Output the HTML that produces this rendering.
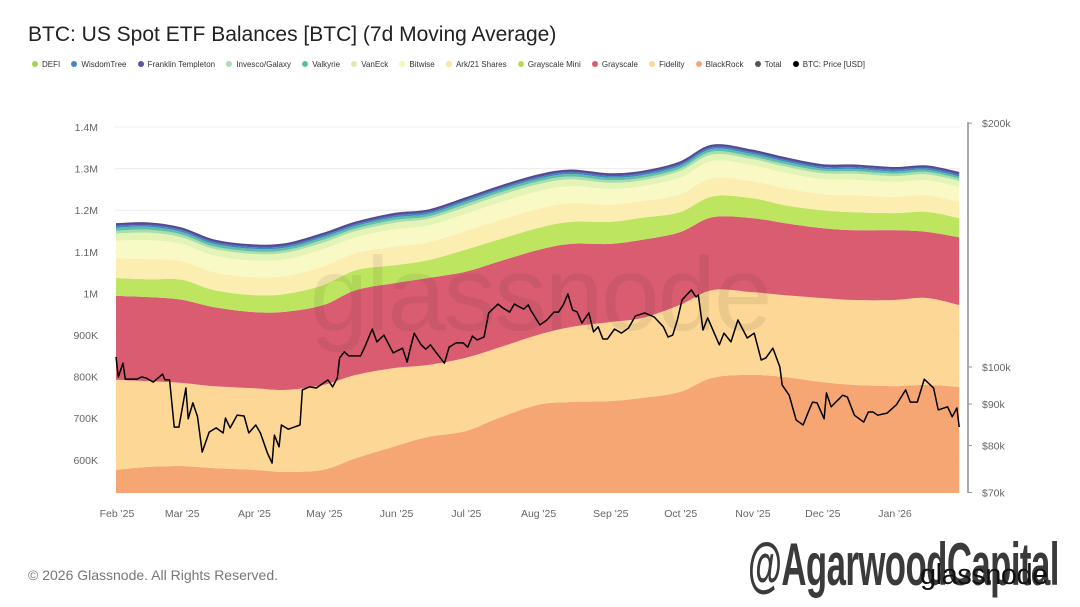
<!DOCTYPE html>
<html><head><meta charset="utf-8">
<style>
body{margin:0;background:#fff;width:1080px;height:607px;overflow:hidden;font-family:"Liberation Sans",sans-serif;position:relative}
#title{position:absolute;left:28px;top:23px;font-size:21px;color:#222;}
#legend{position:absolute;left:32px;top:60px;font-size:8px;color:#333;white-space:nowrap}
#legend span{margin-right:11.2px;display:inline-block}
#legend i{display:inline-block;width:6px;height:6px;border-radius:50%;margin-right:4px;vertical-align:0}
#copy{position:absolute;left:28px;top:567px;font-size:14px;color:#777}
#wm{position:absolute;left:748px;top:530px;font-family:"Liberation Sans Narrow","Liberation Sans",sans-serif;font-weight:bold;font-size:60px;color:#3a3a3a;transform:scaleX(0.58);transform-origin:left top;letter-spacing:-1px;white-space:nowrap}
#gn{position:absolute;left:920px;top:559px;font-size:29px;color:#111;letter-spacing:-0.5px}
</style></head><body>
<div id="title">BTC: US Spot ETF Balances [BTC] (7d Moving Average)</div>
<div id="legend"></div>
<svg id="chart" width="1080" height="607" style="position:absolute;left:0;top:0"></svg>
<div id="copy">© 2026 Glassnode. All Rights Reserved.</div>
<div id="wm">@AgarwoodCapital</div>
<div id="gn">glassnode</div>
<script>
const stackDays=[0,14,28,42,59,73,89,103,120,134,150,164,181,195,212,226,242,256,273,287,303,317,334,348,362];
const blackrock=[576,583,585,580,576,571,576,604,633,655,669,700,732,739,741,749,763,797,804,799,787,780,777,780,775];
const fidelity=[216,206,200,197,196,197,204,200,188,173,176,169,168,180,190,192,209,211,199,197,202,204,207,209,197];
const grayscale=[202,202,200,190,183,188,192,204,204,209,207,207,204,200,188,188,175,175,178,173,168,168,168,159,163];
const grayscaleMini=[43,43,48,41,41,43,48,48,43,43,53,53,53,53,53,53,48,50,48,43,43,43,41,48,46];
const ark=[47,49,45,43,43,43,45,41,45,43,45,46,46,45,41,40,43,44,41,41,39,41,39,40,39];
const bitwise=[43,45,41,40,40,40,41,38,41,40,41,42,42,41,38,36,40,41,38,37,36,37,36,36,36];
const vaneck=[17,18,16,16,16,16,16,15,16,16,16,17,17,16,15,14,16,16,15,15,14,15,14,14,14];
const invesco=[7,7,7,6,6,6,7,6,7,6,7,7,7,7,6,6,6,7,6,6,6,6,6,6,6];
const valkyrie=[7,7,6,6,6,6,6,6,6,6,6,6,6,6,6,6,6,6,6,6,5,5,5,5,5];
const wisdomtree=[4,4,4,4,4,4,4,4,4,4,4,4,4,4,4,4,4,4,4,4,4,4,4,4,4];
const franklin=[4,4,4,4,4,4,4,4,4,4,4,4,4,4,4,4,4,4,4,4,4,4,4,4,4];
const defi=[1,1,1,1,1,1,1,1,1,1,1,1,1,1,1,1,1,1,1,1,1,1,1,1,1];
const priceDays=[0,1,3,4,9,11,13,16,20,21,23,25,27,30,31,33,35,37,40,43,46,47,49,52,55,57,60,62,65,67,68,70,71,74,79,80,83,86,91,93,95,96,98,100,105,107,110,112,115,119,123,125,126,128,131,133,135,137,141,143,146,149,151,153,155,158,160,164,166,169,171,175,177,
178,182,185,188,190,192,194,196,198,200,203,205,207,209,211,214,217,220,223,227,231,235,237,239,241,243,247,249,250,252,254,259,261,264,267,271,274,277,279,282,285,286,289,292,295,297,299,301,304,305,307,312,314,317,321,323,325,327,331,335,339,341,344,347,351,353,357,359,361,362];
const priceK=[102.9,97.2,101.1,96.6,96.6,97.2,96.9,95.8,98.0,96.4,96.4,84.3,84.3,94.2,86.3,90.3,86.8,78.5,83.1,84.1,82.9,86.5,84.1,87.2,87.0,82.9,84.8,82.9,78.3,76.1,82.4,79.7,84.8,83.8,84.8,93.7,94.5,94.2,96.4,94.5,96.9,102.6,104.4,103.2,103.2,106.2,111.4,107.4,109.5,104.1,105.5,101.4,104.4,110.1,106.5,105.2,106.5,104.6,101.1,105.8,107.1,107.1,105.8,109.2,108.0,108.9,116.6,119.6,118.3,116.9,119.6,117.9,119.3,
117.6,112.7,114.3,116.9,116.9,119.3,123.1,117.6,116.9,113.3,116.6,110.5,112.1,108.3,108.3,111.4,110.1,111.7,115.6,116.6,115.3,112.1,108.9,109.5,114.3,121.0,124.5,122.0,122.7,111.1,115.0,106.5,110.1,107.4,114.3,108.6,110.1,102.0,102.6,105.5,100,95.0,92.3,86.0,84.8,87.7,90.5,90.3,86.3,92.9,89.3,92.3,91.8,87.2,85.5,88.0,88.0,87.2,87.7,89.8,93.7,90.5,90.5,96.6,94.2,88.5,89.3,86.8,89.0,84.3];
const leftTicks=[600,700,800,900,1000,1100,1200,1300,1400];
const leftTickLabels=["600K","700K","800K","900K","1M","1.1M","1.2M","1.3M","1.4M"];
const rightTicks=[70,80,90,100,200];
const rightTickLabels=["$70k","$80k","$90k","$100k","$200k"];
const monthDays=[0,28,59,89,120,150,181,212,242,273,303,334];
const monthLabels=["Feb '25","Mar '25","Apr '25","May '25","Jun '25","Jul '25","Aug '25","Sep '25","Oct '25","Nov '25","Dec '25","Jan '26"];

const series=[
 ["BlackRock",blackrock,"#f6a673"],["Fidelity",fidelity,"#fcd796"],["Grayscale",grayscale,"#d95c70"],
 ["Grayscale Mini",grayscaleMini,"#bde55f"],["Ark/21 Shares",ark,"#fcedb0"],["Bitwise",bitwise,"#f9f9c6"],
 ["VanEck",vaneck,"#e4f4b6"],["Invesco/Galaxy",invesco,"#a9dcae"],["Valkyrie",valkyrie,"#5bbfa5"],
 ["WisdomTree",wisdomtree,"#3f88c5"],["Franklin Templeton",franklin,"#5a55a1"],["DEFI",defi,"#a5d24f"]];
const legendItems=[["DEFI","#a5d24f"],["WisdomTree","#3f88c5"],["Franklin Templeton","#5a55a1"],["Invesco/Galaxy","#a9dcae"],["Valkyrie","#5bbfa5"],["VanEck","#d6eeaa"],["Bitwise","#f5f5b5"],["Ark/21 Shares","#fbe6a0"],["Grayscale Mini","#b5dd4f"],["Grayscale","#d95c70"],["Fidelity","#fcd796"],["BlackRock","#f6a673"],["Total","#555"],["BTC: Price [USD]","#000"]];

const X0=116,PXD=(894-116)/334,Y0=127,PXK=0.416,BOT=493;
const x=d=>X0+d*PXD;
const yL=v=>Y0+(1400-v)*PXK;
const yR=p=>367-810*Math.log10(p/100);
const NS="http://www.w3.org/2000/svg";
const svg=document.getElementById('chart');
function mk(t,a,parent){const e=document.createElementNS(NS,t);for(const k in a)e.setAttribute(k,a[k]);(parent||svg).appendChild(e);return e;}

const leg=document.getElementById('legend');
legendItems.forEach(([n,c])=>{const s=document.createElement('span');


s.innerHTML='<i style="background:'+c+'"></i>'+n;leg.appendChild(s);});

leftTicks.forEach((v,i)=>{const g=mk('line',{x1:115,x2:960,y1:yL(v),y2:yL(v),stroke:'#ececec','stroke-width':1});


const t=mk('text',{x:98,y:yL(v)+4,'text-anchor':'end','font-size':10.5,fill:'#666'});t.textContent=leftTickLabels[i];

});
monthDays.forEach((d,i)=>{const t=mk('text',{x:x(d)+1,y:517,'text-anchor':'middle','font-size':10.5,fill:'#666'});t.textContent=monthLabels[i];

});

mk('clipPath',{id:'cp'});
mk('rect',{x:115,y:100,width:846,height:BOT-100},svg.querySelector('#cp'));
function smooth(pts){let d='';for(let i=0;i<pts.length;i++){const p=pts[i];if(i==0){d+='M'+p[0]+','+p[1];continue;}
const p0=pts[Math.max(0,i-2)],p1=pts[i-1],p3=pts[Math.min(pts.length-1,i+1)];
const c1=[p1[0]+(p[0]-p0[0])/6,p1[1]+(p[1]-p0[1])/6],c2=[p[0]-(p3[0]-p1[0])/6,p[1]-(p3[1]-p1[1])/6];
d+=' C'+c1+' '+c2+' '+p;}return d;}
let cum=stackDays.map(()=>0);
const tops=[];
series.forEach(([n,arr,c])=>{const lo=cum.slice();cum=cum.map((v,i)=>v+arr[i]);
const top=stackDays.map((d,i)=>[x(d),yL(cum[i])]);const bot=stackDays.map((d,i)=>[x(d),n==='BlackRock'?BOT+10:yL(lo[i])]).reverse();
let d=smooth(top)+' L'+smooth(bot).slice(1)+' Z';
const p=mk('path',{d:d,fill:c,'clip-path':'url(#cp)'});


tops.push(top);});
const tl=mk('path',{d:smooth(tops[tops.length-1]),fill:'none',stroke:'#4e4a8f','stroke-width':1.5});



const w=mk('text',{x:540,y:330,'text-anchor':'middle','font-size':105,fill:'rgba(40,40,40,0.08)','letter-spacing':'-2'});w.textContent='glassnode';



const pl=mk('polyline',{points:priceDays.map((d,i)=>x(d)+','+yR(priceK[i])).join(' '),fill:'none',stroke:'#000','stroke-width':1.5,'stroke-linejoin':'round'});



const ra=mk('line',{x1:968,x2:968,y1:122,y2:493,stroke:'#555','stroke-width':1});


rightTicks.forEach((p,i)=>{mk('line',{x1:968,x2:972,y1:yR(p),y2:yR(p),stroke:'#999'});
const t=mk('text',{x:982,y:yR(p)+4,'font-size':10.5,fill:'#666'});t.textContent=rightTickLabels[i];

});
</script>
</body></html>
